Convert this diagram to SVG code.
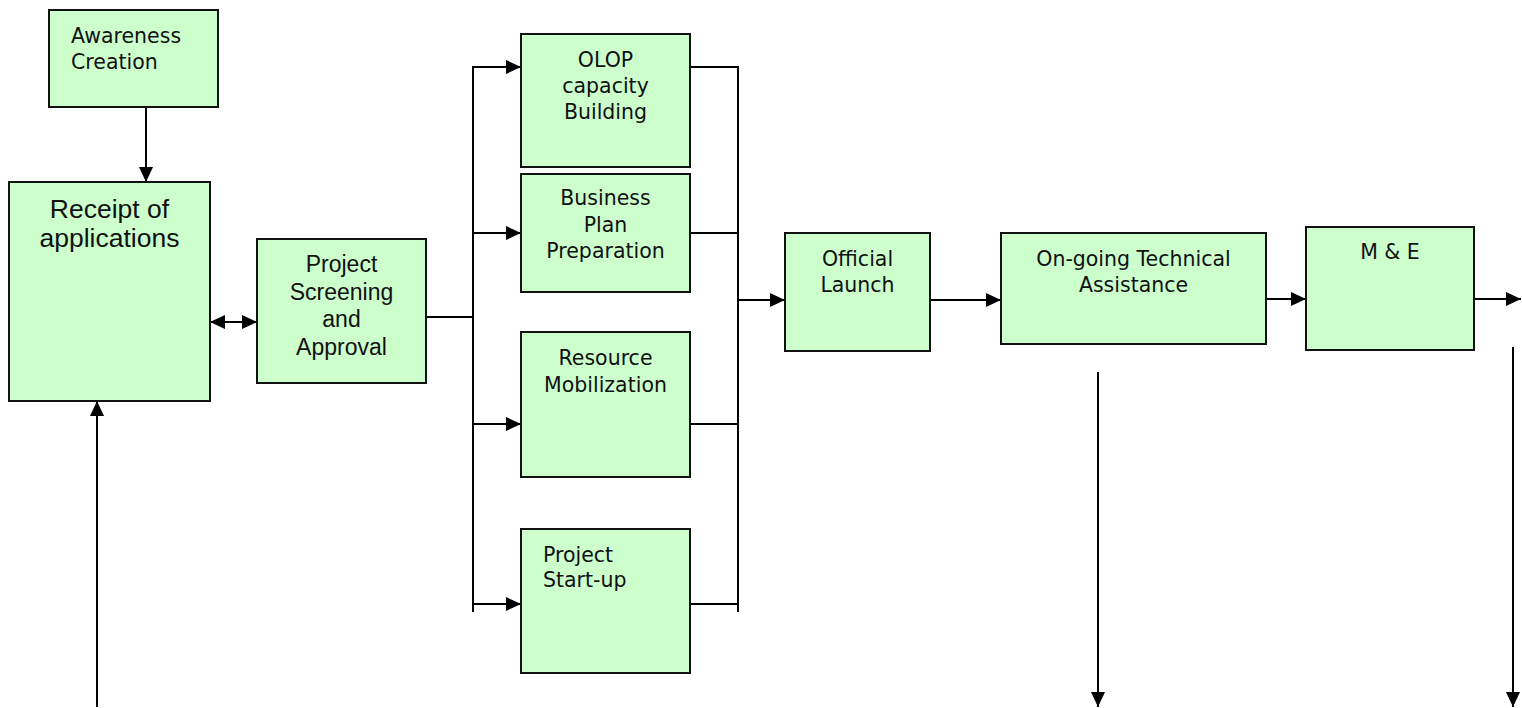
<svg xmlns="http://www.w3.org/2000/svg" width="1522" height="708" viewBox="0 0 1522 708">
<style>
.box{fill:#ccffcc;stroke:#111;stroke-width:2}
.ln{fill:none;stroke:#000;stroke-width:2}
.arr{marker-end:url(#ah)}
.g{font-family:"DejaVu Sans","Liberation Sans",sans-serif;font-size:20.5px;fill:#111}
.a{font-family:"Liberation Sans",Arial,sans-serif;fill:#111}
.c{text-anchor:middle}
</style>
<defs>
<marker id="ah" markerUnits="userSpaceOnUse" markerWidth="15" markerHeight="14" refX="15" refY="7" orient="auto-start-reverse">
<path d="M0,0 L15,7 L0,14 z" fill="#000"/>
</marker>
</defs>
<rect width="1522" height="708" fill="#fff"/>
<g id="connectors">
<line class="ln arr" x1="146" y1="107" x2="146" y2="182"/>
<line class="ln arr" x1="97" y1="707" x2="97" y2="401"/>
<line class="ln arr" x1="210" y1="322" x2="257" y2="322" style="marker-start:url(#ah)"/>
<polyline class="ln" points="426,317 473,317"/>
<line class="ln" x1="473" y1="66" x2="473" y2="612"/>
<line class="ln arr" x1="472" y1="67" x2="521" y2="67"/>
<line class="ln arr" x1="472" y1="233" x2="521" y2="233"/>
<line class="ln arr" x1="472" y1="424" x2="521" y2="424"/>
<line class="ln arr" x1="472" y1="604" x2="521" y2="604"/>
<line class="ln" x1="690" y1="67" x2="739" y2="67"/>
<line class="ln" x1="690" y1="233" x2="739" y2="233"/>
<line class="ln" x1="690" y1="424" x2="739" y2="424"/>
<line class="ln" x1="690" y1="604" x2="739" y2="604"/>
<line class="ln" x1="738" y1="66" x2="738" y2="612"/>
<line class="ln arr" x1="738" y1="300" x2="785" y2="300"/>
<line class="ln arr" x1="930" y1="300" x2="1001" y2="300"/>
<line class="ln arr" x1="1266" y1="299" x2="1306" y2="299"/>
<line class="ln arr" x1="1474" y1="299" x2="1521" y2="299"/>
<line class="ln arr" x1="1098" y1="372" x2="1098" y2="707"/>
<line class="ln arr" x1="1513" y1="347" x2="1513" y2="707"/>
</g>
<g id="awareness">
<rect class="box" x="49" y="10" width="169" height="97"/>
<text class="g" x="71" y="43">Awareness</text>
<text class="g" x="71" y="69">Creation</text>
</g>
<g id="receipt">
<rect class="box" x="9" y="182" width="201" height="219"/>
<text class="a c" x="109.5" y="218" font-size="26.5">Receipt of</text>
<text class="a c" x="109.5" y="247" font-size="26.5">applications</text>
</g>
<g id="screening">
<rect class="box" x="257" y="239" width="169" height="144"/>
<text class="a c" x="341.5" y="272" font-size="23">Project</text>
<text class="a c" x="341.5" y="299.5" font-size="23">Screening</text>
<text class="a c" x="341.5" y="327" font-size="23">and</text>
<text class="a c" x="341.5" y="354.5" font-size="23">Approval</text>
</g>
<g id="olop">
<rect class="box" x="521" y="34" width="169" height="133"/>
<text class="g c" x="605.5" y="67">OLOP</text>
<text class="g c" x="605.5" y="93">capacity</text>
<text class="g c" x="605.5" y="119">Building</text>
</g>
<g id="business">
<rect class="box" x="521" y="174" width="169" height="118"/>
<text class="g c" x="605.5" y="205">Business</text>
<text class="g c" x="605.5" y="231.5">Plan</text>
<text class="g c" x="605.5" y="257.5">Preparation</text>
</g>
<g id="resource">
<rect class="box" x="521" y="332" width="169" height="145"/>
<text class="g c" x="605.5" y="365">Resource</text>
<text class="g c" x="605.5" y="391.5">Mobilization</text>
</g>
<g id="startup">
<rect class="box" x="521" y="529" width="169" height="144"/>
<text class="g" x="543" y="561.5">Project</text>
<text class="g" x="543" y="587">Start-up</text>
</g>
<g id="launch">
<rect class="box" x="785" y="233" width="145" height="118"/>
<text class="g c" x="857.5" y="266">Official</text>
<text class="g c" x="857.5" y="292">Launch</text>
</g>
<g id="ongoing">
<rect class="box" x="1001" y="233" width="265" height="111"/>
<text class="g c" x="1133.5" y="266">On-going Technical</text>
<text class="g c" x="1133.5" y="292">Assistance</text>
</g>
<g id="me">
<rect class="box" x="1306" y="227" width="168" height="123"/>
<text class="g c" x="1390" y="259">M &amp; E</text>
</g>
</svg>
